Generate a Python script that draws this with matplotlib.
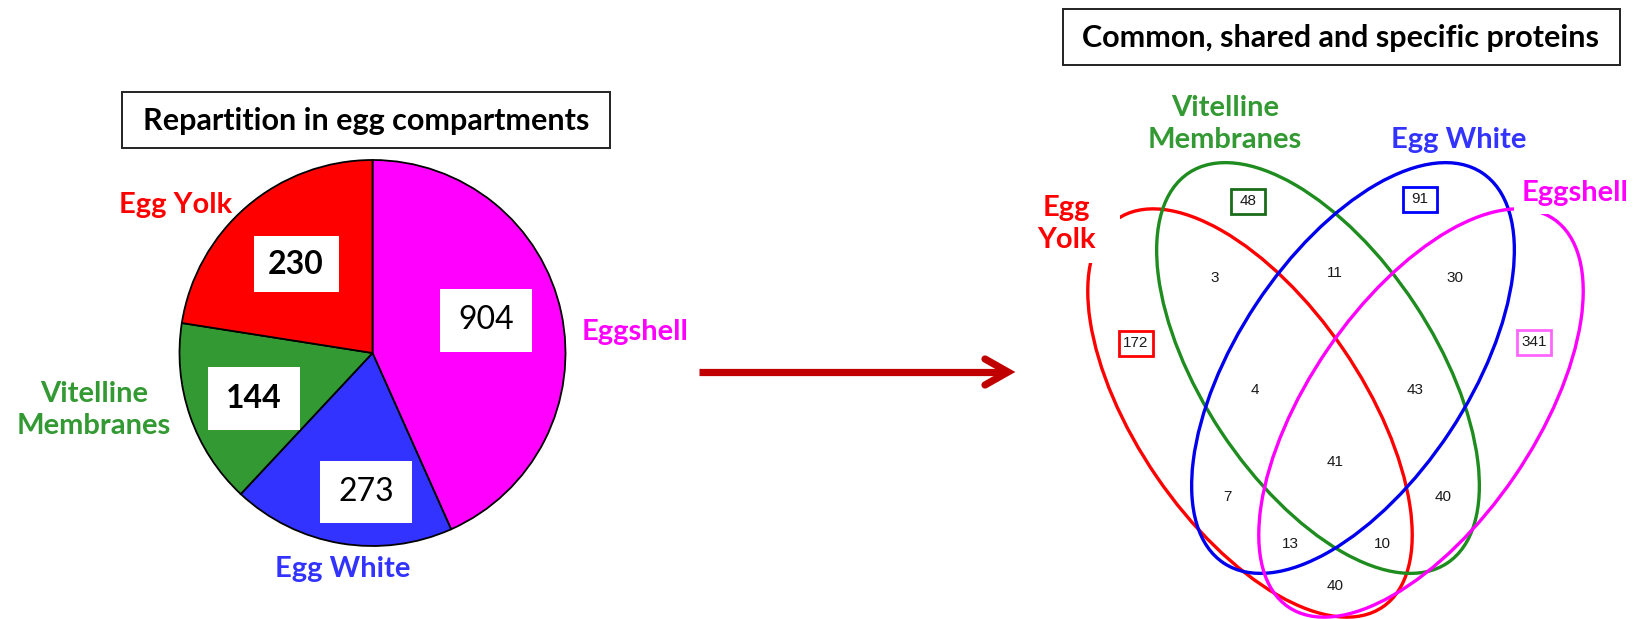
import matplotlib
matplotlib.use("Agg")
import matplotlib.pyplot as plt
from matplotlib.patches import Ellipse, Rectangle

plt.rcParams['font.family'] = ['Lato', 'DejaVu Sans']

# ---------------- data ----------------
# pie, clockwise from 12 o'clock
compartments = ["Eggshell", "Egg White", "Vitelline\nMembranes", "Egg Yolk"]
wedge_sizes = [558, 240, 200, 290]        # wedge areas as drawn
protein_counts = [904, 273, 144, 230]     # numbers written in the boxes
pie_colors = ["#FF00FF", "#3333FF", "#339933", "#FF0000"]

# venn: Y = yolk, V = vitelline membranes, W = egg white, S = eggshell
venn_sets = ["Y", "V", "W", "S"]
venn_names = ["Egg\nYolk", "Vitelline\nMembranes", "Egg White", "Eggshell"]
venn_colors = ["#FF0000", "#1E8C1E", "#0000EE", "#FF00FF"]
venn_text_colors = ["#FF0000", "#339933", "#3333FF", "#FF00FF"]
box_colors = ["#FF0000", "#1A6B1A", "#0000FF", "#FF66FF"]
regions = ["Y", "V", "W", "S", "YV", "VW", "WS", "YVW", "VWS",
           "YVWS", "YW", "VS", "YWS", "YVS", "YS"]
region_counts = [172, 48, 91, 341, 3, 11, 30, 4, 43,
                 41, 7, 40, 13, 10, 40]

# ---------------- figure ----------------
W, H = 1639, 619
fig = plt.figure(figsize=(W / 100, H / 100), dpi=100)
ax = fig.add_axes([0, 0, 1, 1])

# --- pie (y axis is inverted, so counterclock in data = clockwise on screen)
pie_c = (372.5, 353)
ax.pie(wedge_sizes, colors=pie_colors, startangle=-90, counterclock=True,
       center=pie_c, radius=193,
       wedgeprops=dict(edgecolor="black", linewidth=1.3))

num_pos = [(486, 320), (366, 492), (254, 398), (296, 264)]
num_box = [(92, 63), (92, 62), (92, 63), (85, 56)]
num_weight = ["normal", "normal", "bold", "bold"]
for cnt, (x, y), (bw, bh), fw in zip(protein_counts, num_pos, num_box, num_weight):
    ax.add_patch(Rectangle((x - bw / 2, y - bh / 2), bw, bh,
                           facecolor="white", edgecolor="none", zorder=3))
    ax.text(x, y, str(cnt), ha="center", va="center", fontsize=23,
            fontweight=fw, color="black", zorder=4)

pie_lab = [(582, 332, "left"), (343, 569, "center"),
           (94, 410, "center"), (176, 205, "center")]
for name, col, (x, y, ha) in zip(compartments, pie_colors, pie_lab):
    ax.text(x, y, name, ha=ha, va="center", fontsize=21, fontweight="bold",
            color=col, linespacing=1.3)

# --- title boxes
ax.add_patch(Rectangle((122, 92), 488, 56, facecolor="white",
                       edgecolor="#222222", lw=1.4))
ax.text(366, 121, "Repartition in egg compartments", ha="center",
        va="center", fontsize=22, fontweight="bold")
ax.add_patch(Rectangle((1063, 9), 557, 56, facecolor="white",
                       edgecolor="#222222", lw=1.4))
ax.text(1341, 38, "Common, shared and specific proteins", ha="center",
        va="center", fontsize=22, fontweight="bold")

# --- arrow
ax.plot([699, 1004], [372, 372], color="#C00000", lw=5.2,
        solid_capstyle="butt")
ax.plot([985, 1008, 985], [359, 372, 385], color="#C00000", lw=5.2,
        solid_capstyle="round", solid_joinstyle="miter")

# --- venn ellipses: center, semi axes, on-screen angle
ell = [((1250, 413), 235, 113, 124.4),
       ((1318, 368), 234, 116, 123.5),
       ((1353, 368), 234, 116, 56.5),
       ((1421, 413), 235, 113, 55.6)]
for (c, a, b, ang), col in zip(ell, venn_colors):
    ax.add_patch(Ellipse(c, 2 * a, 2 * b, angle=-ang, fill=False,
                         edgecolor=col, lw=2.4, zorder=2))

# white background behind the "Egg Yolk" label (hides part of the ellipse)
ax.add_patch(Rectangle((1028, 178), 92, 85, facecolor="white",
                       edgecolor="none", zorder=4))

venn_lab = [(1066, 224, "center", 1), (1225, 124, "center", 3),
            (1459, 140, "center", 3), (1522, 193, "left", 6)]
for name, col, (x, y, ha, pad) in zip(venn_names, venn_text_colors, venn_lab):
    ax.text(x, y, name, ha=ha, va="center", fontsize=21, fontweight="bold",
            color=col, linespacing=1.3, zorder=5,
            bbox=dict(facecolor="white", edgecolor="none", pad=pad))

reg_pos = {"Y": (1136, 343), "V": (1248, 201), "W": (1420, 199),
           "S": (1534, 342), "YV": (1215, 278), "VW": (1335, 273),
           "WS": (1455, 278), "YVW": (1255, 390), "VWS": (1415, 390),
           "YVWS": (1335, 462), "YW": (1227, 497), "VS": (1443, 497),
           "YWS": (1290, 544), "YVS": (1382, 544), "YS": (1335, 586)}
for reg, cnt in zip(regions, region_counts):
    x, y = reg_pos[reg]
    if reg in venn_sets:
        bc = box_colors[venn_sets.index(reg)]
        ax.add_patch(Rectangle((x - 17, y - 12.5), 34, 25, facecolor="white",
                               edgecolor=bc, lw=2.0, zorder=3))
    ax.text(x, y, str(cnt), ha="center", va="center", fontsize=11,
            family="Liberation Sans", color="#1A1A1A", zorder=4)

ax.set_xlim(0, W)
ax.set_ylim(H, 0)
ax.set_aspect("auto")
ax.axis("off")

fig.savefig("out.png", dpi=100)
